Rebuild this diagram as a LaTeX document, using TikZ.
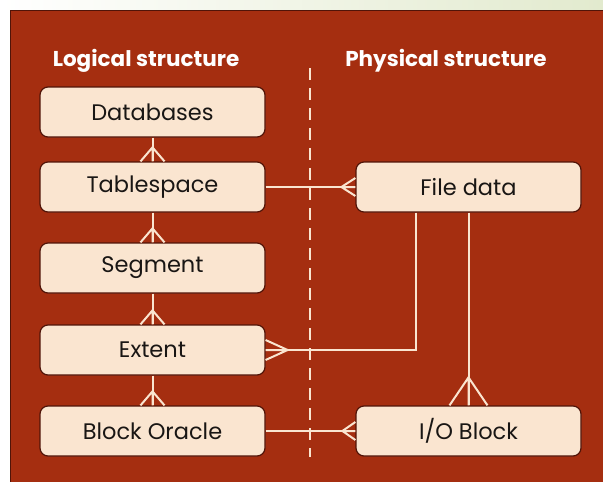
\documentclass[tikz,border=0pt]{standalone}
\usepackage{fontspec}
\setmainfont{Poppins}
\usepackage{tikz}
\usetikzlibrary{calc, positioning}
\definecolor{slide}{RGB}{165,46,16}
\definecolor{cream}{RGB}{250,229,208}
\definecolor{edge}{RGB}{80,20,8}
\definecolor{ink}{RGB}{25,22,20}
\tikzstyle{block} = [draw=edge, line width=1.2pt, fill=cream, rounded corners=8pt, minimum width=225pt, minimum height=50pt, inner sep=0pt, font=\fontsize{22.5}{26}\selectfont, text=ink]
\tikzstyle{head} = [font=\fontsize{21.5}{24}\selectfont\bfseries, text=white]
\tikzstyle{link} = [draw=cream, line width=2pt]
% crow's foot: point, vector back along the line, half spread
\newcommand{\crowfoot}[3]{
    \draw[link] ($#1+#3$) -- ($#1+#2$) -- ($#1-#3$) ($#1+#2$) -- #1;
}

\begin{document}
\begin{tikzpicture}[x=1pt, y=-1pt]
            \useasboundingbox (0,0) rectangle (603,482);
            \shade[left color=white, right color={rgb,255:red,226;green,234;blue,206}] (0,0) rectangle (603,482);
            \filldraw[fill=slide, draw=edge, line width=0.8pt] (10,10) rectangle (610,490);
            \node[head] (logical) at (146,61) {Logical structure};
            \node[head] (physical) at (446,61) {Physical structure};
            \coordinate (divtop) at (310,68);
            \coordinate (divbot) at (310,457);
            \draw[draw=cream, line width=2.5pt, dash pattern=on 12pt off 8pt] (divtop) -- (divbot);
            \foreach \name/\txt/\y in {db/Databases/112, ts/Tablespace/187, seg/Segment/268, ext/Extent/350, blk/Block Oracle/431} {
                \node[block] (\name) at (152.5,\y) {\txt};
            }
            \node[block] (fd) at (468.5,187) {File data};
            \node[block] (io) at (468.5,431) {I/O Block};
            \foreach \a/\b in {db/ts, ts/seg, seg/ext, ext/blk} {
                \draw[link] (\a.south) -- (\b.north);
                \crowfoot{(\b.north)}{(0,-14)}{(12,0)}
            }
            \draw[link] (ts.east) -- (fd.west);
            \crowfoot{(fd.west)}{(-14,0)}{(0,9)}
            \draw[link] ([xshift=-52.5pt]fd.south) |- (ext.east);
            \crowfoot{(ext.east)}{(22,0)}{(0,10)}
            \draw[link] (fd.south) -- (io.north);
            \crowfoot{(io.north)}{(0,-28)}{(19,0)}
            \draw[link] (blk.east) -- (io.west);
            \crowfoot{(io.west)}{(-13,0)}{(0,9)}
        \end{tikzpicture}
\end{document}
